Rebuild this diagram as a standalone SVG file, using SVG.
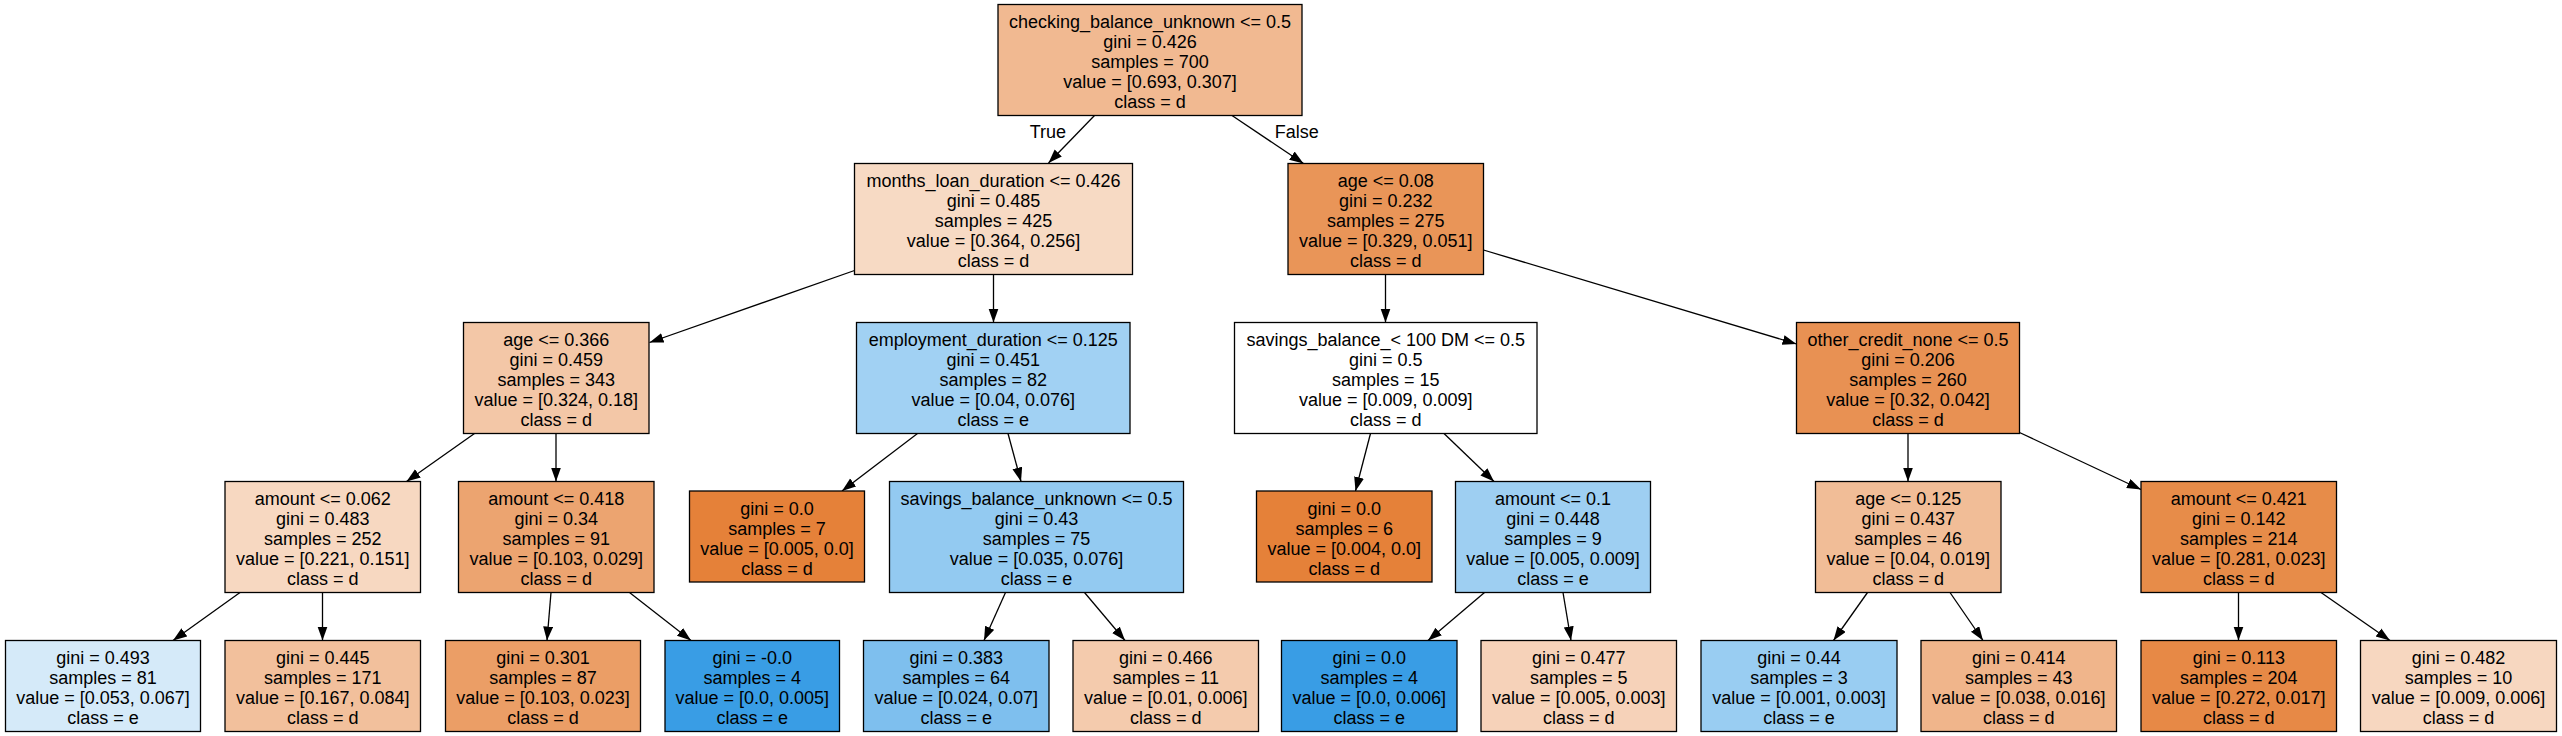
<svg xmlns="http://www.w3.org/2000/svg" width="2562" height="736" viewBox="0 0 2562 736">
<defs>
<style>
.node rect{stroke:#000;stroke-width:1.3}
text{font-family:"Liberation Sans",Helvetica,Arial,sans-serif;font-size:18px;fill:#000;text-anchor:middle}
.edges line{stroke:#000;stroke-width:1.3;fill:none}
</style>
<marker id="arr" markerUnits="userSpaceOnUse" markerWidth="15" markerHeight="11" refX="14" refY="5" orient="auto">
<path d="M0,0 L14,5 L0,10 z" fill="#000"/>
</marker>
</defs>
<rect x="0" y="0" width="2562" height="736" fill="#fff"/>
<g class="edges" id="edges">
<line x1="1094.5" y1="115.5" x2="1048.5" y2="163" marker-end="url(#arr)"/>
<line x1="1232" y1="115.5" x2="1303.5" y2="163.5" marker-end="url(#arr)"/>
<line x1="854.5" y1="270.5" x2="649.5" y2="342.5" marker-end="url(#arr)"/>
<line x1="993.5" y1="274.5" x2="993.5" y2="322.5" marker-end="url(#arr)"/>
<line x1="1385.5" y1="274.5" x2="1385.5" y2="322.5" marker-end="url(#arr)"/>
<line x1="1483.5" y1="250" x2="1796.5" y2="344" marker-end="url(#arr)"/>
<line x1="474.5" y1="433.5" x2="406.5" y2="481.5" marker-end="url(#arr)"/>
<line x1="556" y1="433.5" x2="556" y2="481.5" marker-end="url(#arr)"/>
<line x1="917.5" y1="433.5" x2="842" y2="491" marker-end="url(#arr)"/>
<line x1="1008" y1="433.5" x2="1021" y2="481.5" marker-end="url(#arr)"/>
<line x1="1370.5" y1="433.5" x2="1355.5" y2="491" marker-end="url(#arr)"/>
<line x1="1444" y1="433.5" x2="1494" y2="481.5" marker-end="url(#arr)"/>
<line x1="1908" y1="433.5" x2="1908" y2="481.5" marker-end="url(#arr)"/>
<line x1="2019.5" y1="432.5" x2="2141" y2="489.5" marker-end="url(#arr)"/>
<line x1="240" y1="592.5" x2="173" y2="640.5" marker-end="url(#arr)"/>
<line x1="322.5" y1="592.5" x2="322.5" y2="640.5" marker-end="url(#arr)"/>
<line x1="551" y1="592.5" x2="547" y2="640.5" marker-end="url(#arr)"/>
<line x1="629.5" y1="592.5" x2="691" y2="640.5" marker-end="url(#arr)"/>
<line x1="1005.5" y1="592.5" x2="984" y2="640.5" marker-end="url(#arr)"/>
<line x1="1084.5" y1="592.5" x2="1125" y2="640.5" marker-end="url(#arr)"/>
<line x1="1484.5" y1="592.5" x2="1428" y2="640.5" marker-end="url(#arr)"/>
<line x1="1563" y1="592.5" x2="1571" y2="640.5" marker-end="url(#arr)"/>
<line x1="1867.5" y1="592.5" x2="1833.5" y2="640.5" marker-end="url(#arr)"/>
<line x1="1950" y1="592.5" x2="1983" y2="640.5" marker-end="url(#arr)"/>
<line x1="2238.5" y1="592.5" x2="2238.5" y2="640.5" marker-end="url(#arr)"/>
<line x1="2321" y1="592.5" x2="2390" y2="640.5" marker-end="url(#arr)"/>
<text x="1047.8" y="137.7">True</text>
<text x="1296.8" y="138.3">False</text>
</g>
<g class="node" id="n0"><rect x="998" y="4.5" width="304" height="111" fill="#f1b991"/>
<text x="1150" y="28">checking_balance_unknown &lt;= 0.5</text><text x="1150" y="48">gini = 0.426</text><text x="1150" y="68">samples = 700</text><text x="1150" y="88">value = [0.693, 0.307]</text><text x="1150" y="108">class = d</text></g>
<g class="node" id="n1"><rect x="854.5" y="163.5" width="278" height="111" fill="#f7dac4"/>
<text x="993.5" y="187">months_loan_duration &lt;= 0.426</text><text x="993.5" y="207">gini = 0.485</text><text x="993.5" y="227">samples = 425</text><text x="993.5" y="247">value = [0.364, 0.256]</text><text x="993.5" y="267">class = d</text></g>
<g class="node" id="n2"><rect x="1288" y="163.5" width="195.5" height="111" fill="#e99558"/>
<text x="1385.8" y="187">age &lt;= 0.08</text><text x="1385.8" y="207">gini = 0.232</text><text x="1385.8" y="227">samples = 275</text><text x="1385.8" y="247">value = [0.329, 0.051]</text><text x="1385.8" y="267">class = d</text></g>
<g class="node" id="n3"><rect x="463.5" y="322.5" width="185.5" height="111" fill="#f3c7a7"/>
<text x="556.2" y="346">age &lt;= 0.366</text><text x="556.2" y="366">gini = 0.459</text><text x="556.2" y="386">samples = 343</text><text x="556.2" y="406">value = [0.324, 0.18]</text><text x="556.2" y="426">class = d</text></g>
<g class="node" id="n4"><rect x="856.5" y="322.5" width="273.5" height="111" fill="#a1d1f3"/>
<text x="993.3" y="346">employment_duration &lt;= 0.125</text><text x="993.3" y="366">gini = 0.451</text><text x="993.3" y="386">samples = 82</text><text x="993.3" y="406">value = [0.04, 0.076]</text><text x="993.3" y="426">class = e</text></g>
<g class="node" id="n5"><rect x="1234.5" y="322.5" width="302.5" height="111" fill="#ffffff"/>
<text x="1385.8" y="346">savings_balance_&lt; 100 DM &lt;= 0.5</text><text x="1385.8" y="366">gini = 0.5</text><text x="1385.8" y="386">samples = 15</text><text x="1385.8" y="406">value = [0.009, 0.009]</text><text x="1385.8" y="426">class = d</text></g>
<g class="node" id="n6"><rect x="1796.5" y="322.5" width="223" height="111" fill="#e89153"/>
<text x="1908" y="346">other_credit_none &lt;= 0.5</text><text x="1908" y="366">gini = 0.206</text><text x="1908" y="386">samples = 260</text><text x="1908" y="406">value = [0.32, 0.042]</text><text x="1908" y="426">class = d</text></g>
<g class="node" id="n7"><rect x="225" y="481.5" width="195.5" height="111" fill="#f7d8c1"/>
<text x="322.8" y="505">amount &lt;= 0.062</text><text x="322.8" y="525">gini = 0.483</text><text x="322.8" y="545">samples = 252</text><text x="322.8" y="565">value = [0.221, 0.151]</text><text x="322.8" y="585">class = d</text></g>
<g class="node" id="n8"><rect x="458.5" y="481.5" width="195.5" height="111" fill="#eca470"/>
<text x="556.2" y="505">amount &lt;= 0.418</text><text x="556.2" y="525">gini = 0.34</text><text x="556.2" y="545">samples = 91</text><text x="556.2" y="565">value = [0.103, 0.029]</text><text x="556.2" y="585">class = d</text></g>
<g class="node" id="n9"><rect x="689.5" y="491" width="175" height="91" fill="#e58139"/>
<text x="777" y="514.5">gini = 0.0</text><text x="777" y="534.5">samples = 7</text><text x="777" y="554.5">value = [0.005, 0.0]</text><text x="777" y="574.5">class = d</text></g>
<g class="node" id="n10"><rect x="889.5" y="481.5" width="294" height="111" fill="#93caf1"/>
<text x="1036.5" y="505">savings_balance_unknown &lt;= 0.5</text><text x="1036.5" y="525">gini = 0.43</text><text x="1036.5" y="545">samples = 75</text><text x="1036.5" y="565">value = [0.035, 0.076]</text><text x="1036.5" y="585">class = e</text></g>
<g class="node" id="n11"><rect x="1256.5" y="491" width="175.5" height="91" fill="#e58139"/>
<text x="1344.2" y="514.5">gini = 0.0</text><text x="1344.2" y="534.5">samples = 6</text><text x="1344.2" y="554.5">value = [0.004, 0.0]</text><text x="1344.2" y="574.5">class = d</text></g>
<g class="node" id="n12"><rect x="1455.5" y="481.5" width="195" height="111" fill="#9ecff2"/>
<text x="1553" y="505">amount &lt;= 0.1</text><text x="1553" y="525">gini = 0.448</text><text x="1553" y="545">samples = 9</text><text x="1553" y="565">value = [0.005, 0.009]</text><text x="1553" y="585">class = e</text></g>
<g class="node" id="n13"><rect x="1815.5" y="481.5" width="185.5" height="111" fill="#f1bd97"/>
<text x="1908.2" y="505">age &lt;= 0.125</text><text x="1908.2" y="525">gini = 0.437</text><text x="1908.2" y="545">samples = 46</text><text x="1908.2" y="565">value = [0.04, 0.019]</text><text x="1908.2" y="585">class = d</text></g>
<g class="node" id="n14"><rect x="2141" y="481.5" width="195.5" height="111" fill="#e78c49"/>
<text x="2238.8" y="505">amount &lt;= 0.421</text><text x="2238.8" y="525">gini = 0.142</text><text x="2238.8" y="545">samples = 214</text><text x="2238.8" y="565">value = [0.281, 0.023]</text><text x="2238.8" y="585">class = d</text></g>
<g class="node" id="n15"><rect x="5.5" y="640.5" width="195" height="91" fill="#d5eaf9"/>
<text x="103" y="664">gini = 0.493</text><text x="103" y="684">samples = 81</text><text x="103" y="704">value = [0.053, 0.067]</text><text x="103" y="724">class = e</text></g>
<g class="node" id="n16"><rect x="225" y="640.5" width="195.5" height="91" fill="#f2c09c"/>
<text x="322.8" y="664">gini = 0.445</text><text x="322.8" y="684">samples = 171</text><text x="322.8" y="704">value = [0.167, 0.084]</text><text x="322.8" y="724">class = d</text></g>
<g class="node" id="n17"><rect x="445.5" y="640.5" width="195" height="91" fill="#eb9e66"/>
<text x="543" y="664">gini = 0.301</text><text x="543" y="684">samples = 87</text><text x="543" y="704">value = [0.103, 0.023]</text><text x="543" y="724">class = d</text></g>
<g class="node" id="n18"><rect x="665" y="640.5" width="174.5" height="91" fill="#399de5"/>
<text x="752.2" y="664">gini = -0.0</text><text x="752.2" y="684">samples = 4</text><text x="752.2" y="704">value = [0.0, 0.005]</text><text x="752.2" y="724">class = e</text></g>
<g class="node" id="n19"><rect x="863.5" y="640.5" width="185.5" height="91" fill="#7ebfee"/>
<text x="956.2" y="664">gini = 0.383</text><text x="956.2" y="684">samples = 64</text><text x="956.2" y="704">value = [0.024, 0.07]</text><text x="956.2" y="724">class = e</text></g>
<g class="node" id="n20"><rect x="1073" y="640.5" width="185.5" height="91" fill="#f4cbad"/>
<text x="1165.8" y="664">gini = 0.466</text><text x="1165.8" y="684">samples = 11</text><text x="1165.8" y="704">value = [0.01, 0.006]</text><text x="1165.8" y="724">class = d</text></g>
<g class="node" id="n21"><rect x="1281.5" y="640.5" width="175.5" height="91" fill="#399de5"/>
<text x="1369.2" y="664">gini = 0.0</text><text x="1369.2" y="684">samples = 4</text><text x="1369.2" y="704">value = [0.0, 0.006]</text><text x="1369.2" y="724">class = e</text></g>
<g class="node" id="n22"><rect x="1481" y="640.5" width="195.5" height="91" fill="#f6d2b9"/>
<text x="1578.8" y="664">gini = 0.477</text><text x="1578.8" y="684">samples = 5</text><text x="1578.8" y="704">value = [0.005, 0.003]</text><text x="1578.8" y="724">class = d</text></g>
<g class="node" id="n23"><rect x="1701" y="640.5" width="196" height="91" fill="#99cdf2"/>
<text x="1799" y="664">gini = 0.44</text><text x="1799" y="684">samples = 3</text><text x="1799" y="704">value = [0.001, 0.003]</text><text x="1799" y="724">class = e</text></g>
<g class="node" id="n24"><rect x="1921" y="640.5" width="195.5" height="91" fill="#f0b58b"/>
<text x="2018.8" y="664">gini = 0.414</text><text x="2018.8" y="684">samples = 43</text><text x="2018.8" y="704">value = [0.038, 0.016]</text><text x="2018.8" y="724">class = d</text></g>
<g class="node" id="n25"><rect x="2141" y="640.5" width="195.5" height="91" fill="#e78946"/>
<text x="2238.8" y="664">gini = 0.113</text><text x="2238.8" y="684">samples = 204</text><text x="2238.8" y="704">value = [0.272, 0.017]</text><text x="2238.8" y="724">class = d</text></g>
<g class="node" id="n26"><rect x="2360.5" y="640.5" width="196" height="91" fill="#f7d7c0"/>
<text x="2458.5" y="664">gini = 0.482</text><text x="2458.5" y="684">samples = 10</text><text x="2458.5" y="704">value = [0.009, 0.006]</text><text x="2458.5" y="724">class = d</text></g>
</svg>
